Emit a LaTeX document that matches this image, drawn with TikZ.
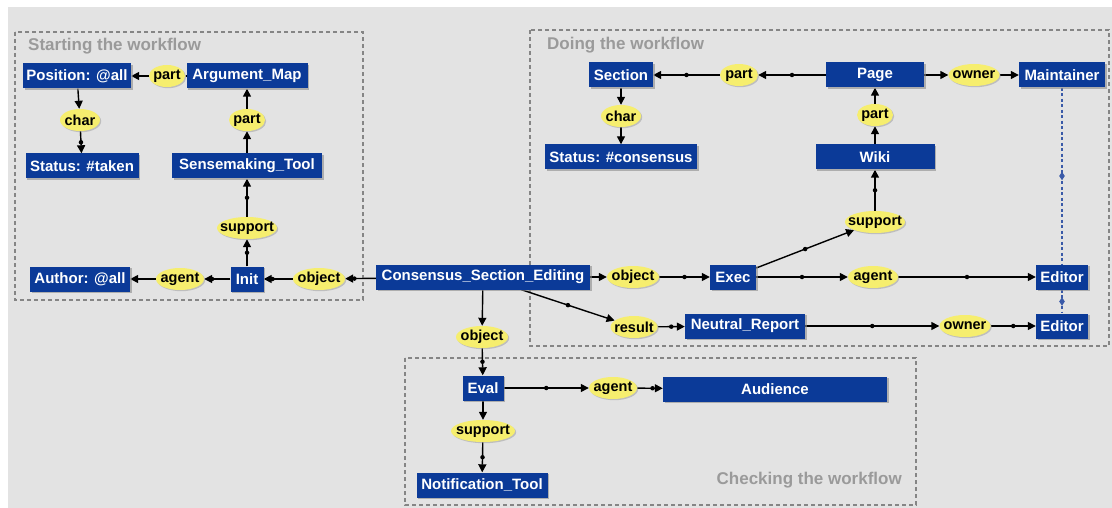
\documentclass[tikz,border=0pt]{standalone}
\usepackage{fontspec}
\setmainfont{Liberation Sans}
\usetikzlibrary{arrows.meta,shapes.geometric,shadows,backgrounds}

\definecolor{canvasgray}{HTML}{E3E3E3}
\definecolor{conceptblue}{HTML}{0B3A98}
\definecolor{relyellow}{HTML}{F6EE6E}
\definecolor{grouptext}{HTML}{9A9A9A}
\definecolor{groupline}{HTML}{858585}
\definecolor{linkblue}{HTML}{3A5AA8}

\begin{document}
\begin{tikzpicture}[x=1pt,y=-1pt,
  concept/.style={rectangle, fill=conceptblue, text=white,
    font=\bfseries\fontsize{15pt}{16pt}\selectfont,
    minimum height=25pt, inner sep=0pt,
    drop shadow={shadow xshift=1.5pt, shadow yshift=-1.5pt, fill=black!45, opacity=.6}},
  rel/.style={ellipse, fill=relyellow, text=black,
    font=\bfseries\fontsize{14.5pt}{16pt}\selectfont,
    inner xsep=-30pt, inner ysep=-4pt, minimum height=22pt,
    drop shadow={shadow xshift=1.2pt, shadow yshift=-1.2pt, fill=black!35, opacity=.6}},
  conn/.style={line width=1.4pt, -{Triangle[length=8pt,width=8pt]}},
  dot/.style={circle, fill=black, inner sep=0pt, minimum size=4.5pt},
  groupbox/.style={draw=groupline, line width=1.2pt, dash pattern=on 4pt off 3pt},
  gtitle/.style={text=grouptext, font=\bfseries\fontsize{17pt}{19pt}\selectfont, inner sep=0pt},
  ownlink/.style={draw=linkblue, line width=1.1pt, dash pattern=on 3pt off 2.5pt},
  linkmark/.style={diamond, fill=linkblue, inner sep=0pt, minimum width=6pt, minimum height=9pt},
]
\useasboundingbox (0,0) rectangle (1112,508);

% canvas and the three workflow groups
\begin{scope}[on background layer]
  \fill[white] (0,0) rectangle (1112,508);
  \fill[canvasgray] (8,7) rectangle (1112,508);
  \draw[groupbox] (15,32) rectangle (363,300);
  \draw[groupbox] (530,30) rectangle (1109,346);
  \draw[groupbox] (405,358) rectangle (916,505);
\end{scope}
\node[gtitle, anchor=west] (tstart) at (28,46) {Starting the workflow};
\node[gtitle, anchor=west] (tdoing) at (547,45) {Doing the workflow};
\node[gtitle, anchor=east] (tcheck) at (902,480) {Checking the workflow};

% starting the workflow
\node[concept, minimum width=108pt] (posall) at (77,76) {Position: @all};
\node[rel, minimum width=36pt] (partA) at (167,76) {part};
\node[concept, minimum width=121pt] (argmap) at (247,76) {Argument\_Map};
\node[rel, minimum width=40pt] (charA) at (80,120) {char};
\node[concept, minimum width=113pt] (taken) at (82,166) {Status: \#taken};
\node[rel, minimum width=36pt] (partB) at (247,120) {part};
\node[concept, minimum width=150pt] (sense) at (247,166) {Sensemaking\_Tool};
\node[rel, minimum width=60pt] (suppA) at (247,228) {support};
\node[concept, minimum width=33pt] (init) at (247,279) {Init};
\node[rel, minimum width=48pt] (agentA) at (180,279) {agent};
\node[concept, minimum width=100pt] (author) at (80,279) {Author: @all};
\node[rel, minimum width=52pt] (objA) at (319,279) {object};

% central activity
\node[concept, minimum width=214pt] (cse) at (483,277) {Consensus\_Section\_Editing};
\node[rel, minimum width=52pt] (objB) at (633,277) {object};
\node[rel, minimum width=47pt] (result) at (634,327) {result};
\node[rel, minimum width=52pt] (objC) at (482,337) {object};

% doing the workflow
\node[concept, minimum width=64pt] (section) at (621,75) {Section};
\node[rel, minimum width=38pt] (partC) at (739,75) {part};
\node[concept, minimum width=98pt] (page) at (875,75) {Page};
\node[rel, minimum width=51pt] (ownerA) at (974,75) {owner};
\node[concept, minimum width=86pt] (maint) at (1062,75) {Maintainer};
\node[rel, minimum width=40pt] (charB) at (621,116) {char};
\node[concept, minimum width=152pt] (consensus) at (621,157) {Status: \#consensus};
\node[rel, minimum width=36pt] (partD) at (875,115) {part};
\node[concept, minimum width=119pt] (wiki) at (875,157) {Wiki};
\node[rel, minimum width=60pt] (suppB) at (875,222) {support};
\node[concept, minimum width=46pt] (exec) at (733,277) {Exec};
\node[rel, minimum width=50pt] (agentB) at (873,277) {agent};
\node[concept, minimum width=52pt] (editorA) at (1062,277) {Editor};
\node[concept, minimum width=120pt] (report) at (745,326) {Neutral\_Report};
\node[rel, minimum width=51pt] (ownerB) at (965,326) {owner};
\node[concept, minimum width=52pt] (editorB) at (1062,326) {Editor};

% checking the workflow
\node[concept, minimum width=41pt] (eval) at (483,388) {Eval};
\node[rel, minimum width=48pt] (agentC) at (613,388) {agent};
\node[concept, minimum width=224pt] (audience) at (775,389) {Audience};
\node[rel, minimum width=64pt] (suppC) at (483,431) {support};
\node[concept, minimum width=131pt] (notif) at (482,485) {Notification\_Tool};

% relations
\begin{scope}[on background layer]
  \draw[conn] (argmap) -- (partA);
  \draw[conn] (partA) -- (posall);
  \draw[conn] (posall) -- (charA);
  \draw[conn] (charA) -- node[dot] (dA) {} (taken);
  \draw[conn] (init) -- node[dot] (dB) {} (suppA);
  \draw[conn] (suppA) -- node[dot] (dC) {} (sense);
  \draw[conn] (sense) -- (partB);
  \draw[conn] (partB) -- (argmap);
  \draw[conn] (init) -- node[dot, pos=.7] (dD) {} (agentA);
  \draw[conn] (agentA) -- (author);
  \draw[conn] (cse) -- node[dot, pos=.7] (dE) {} (objA);
  \draw[conn] (objA) -- node[dot, pos=.7] (dF) {} (init);

  \draw[conn] (cse) -- (objB);
  \draw[conn] (objB) -- node[dot] (dG) {} (exec);
  \draw[conn] (exec) -- node[dot] (dH) {} (agentB);
  \draw[conn] (agentB) -- node[dot] (dI) {} (editorA);
  \draw[conn] (exec) -- node[dot] (dJ) {} (suppB);
  \draw[conn] (suppB) -- node[dot] (dK) {} (wiki);
  \draw[conn] (wiki) -- (partD);
  \draw[conn] (partD) -- (page);
  \draw[conn] (page) -- node[dot] (dL) {} (partC);
  \draw[conn] (partC) -- node[dot] (dM) {} (section);
  \draw[conn] (section) -- (charB);
  \draw[conn] (charB) -- (consensus);
  \draw[conn] (page) -- (ownerA);
  \draw[conn] (ownerA) -- (maint);
  \draw[conn] (cse) -- node[dot] (dN) {} (result);
  \draw[conn] (result) -- node[dot] (dO) {} (report);
  \draw[conn] (report) -- node[dot] (dP) {} (ownerB);
  \draw[conn] (ownerB) -- node[dot] (dQ) {} (editorB);

  \draw[conn] (cse) -- (objC);
  \draw[conn] (objC) -- node[dot] (dR) {} (eval);
  \draw[conn] (eval) -- node[dot] (dS) {} (agentC);
  \draw[conn] (agentC) -- node[dot, pos=.6] (dT) {} (audience);
  \draw[conn] (eval) -- (suppC);
  \draw[conn] (suppC) -- node[dot] (dU) {} (notif);

  % same-person links between roles
  \draw[ownlink] (maint) -- node[linkmark] (mA) {} (editorA);
  \draw[ownlink] (editorA) -- node[linkmark] (mB) {} (editorB);
\end{scope}
\end{tikzpicture}
\end{document}
